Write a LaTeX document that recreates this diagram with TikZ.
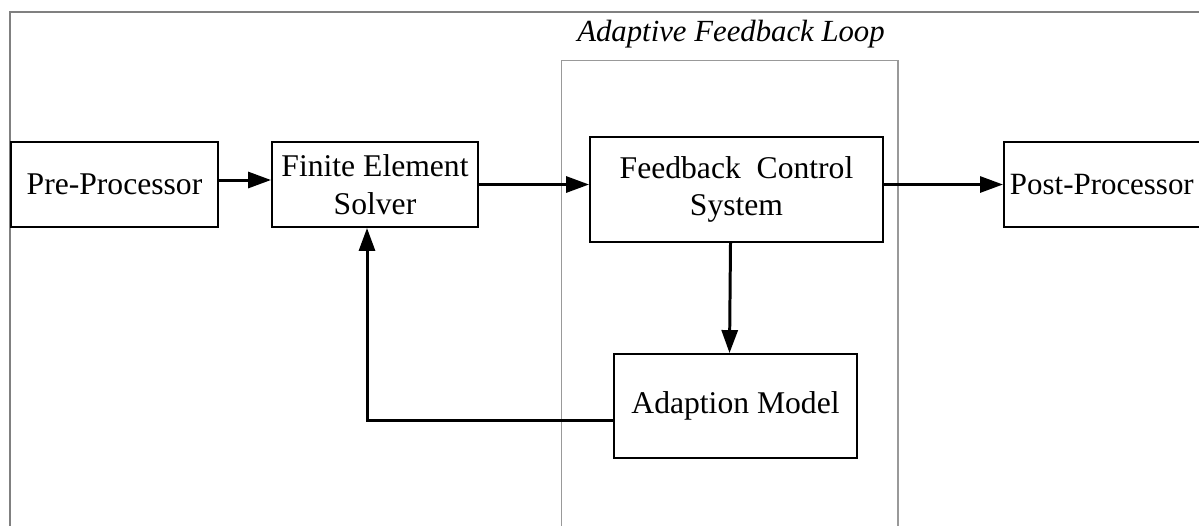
\documentclass[tikz,border=0pt]{standalone}
\usepackage{fontspec}
\setmainfont{Liberation Serif}
\usetikzlibrary{arrows.meta,positioning}

\begin{document}
\begin{tikzpicture}[
			x=0.02cm, y=-0.02cm,
			font=\fontsize{18}{21.5}\selectfont,
			box/.style={
				draw,
				line width=1.1pt,
				inner sep=0pt,
				align=center
			},
			frame/.style={draw=black!50,line width=1.1pt},
			loopbox/.style={draw=black!40,line width=0.6pt,minimum width=6.74cm,minimum height=10.4cm},
			arrow/.style={-{Triangle[length=0.46cm,width=0.32cm]},line width=1.7pt}
			]
			
			\useasboundingbox (0,0) rectangle (1199,525);
			\draw[frame] (10,580) -- (10,12) -- (1250,12);
			
			\node[loopbox] (loop) at (729.5,320) {};
			\node[font=\fontsize{17.5}{20}\selectfont\itshape] (looptitle) at (731,34) {Adaptive Feedback Loop};
			
			\node[box,minimum width=4.14cm,minimum height=1.7cm] (pre) at (114.5,184.5) {Pre-Processor};
			\node[box,minimum width=4.12cm,minimum height=1.7cm] (fes) at (375,184.5) {Finite Element\\ Solver};
			\node[box,minimum width=5.86cm,minimum height=2.1cm] (fcs) at (736.5,189.5) {Feedback~ Control\\ System};
			\node[box,anchor=west,minimum height=1.7cm,text width=4.2cm,align=left,inner xsep=0.12cm,font=\fontsize{17.6}{21}\selectfont] (post) at (1003,184.5) {Post-Processor};
			\node[box,minimum width=4.86cm,minimum height=2.08cm] (adm) at (735.5,406) {Adaption Model};
			
			\draw[arrow] ([yshift=0.09cm]pre.east) -- ([yshift=0.09cm]fes.west);
			\draw[arrow] (fes.east) -- (fes.east -| fcs.west);
			\draw[arrow] (fcs.east |- post.west) -- (post.west);
			\draw[arrow] ([xshift=-0.12cm]fcs.south) -- ([xshift=-0.12cm]adm.north);
			
			% feedback path back into the solver
			\draw[arrow] ([yshift=-0.28cm]adm.west) -| ([xshift=-0.16cm]fes.south);
			
		\end{tikzpicture}
\end{document}
